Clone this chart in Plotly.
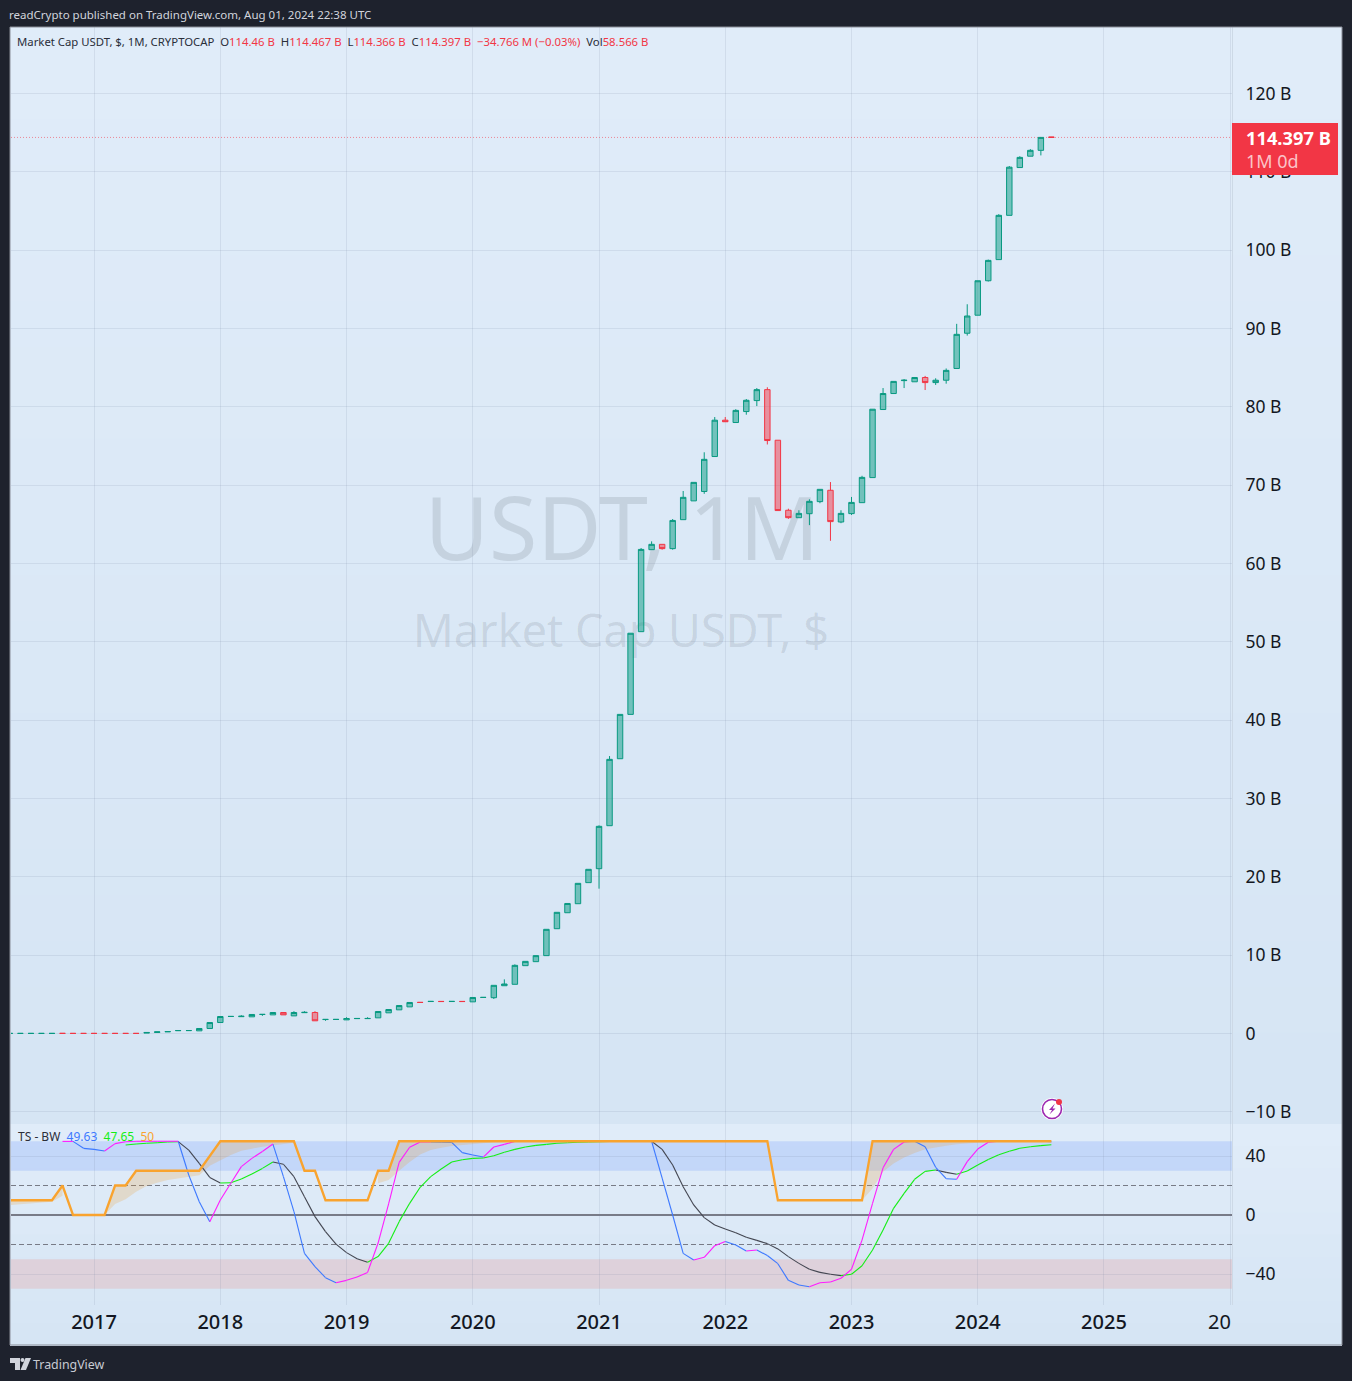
import plotly.graph_objects as go

W, H = 1352, 1381
FONT = "Noto Sans"

# ── Candles, one per month from 2016-05, values in billions ──────────────────
opens = [0.01, 0.01, 0.01, 0.01, 0.01, 0.02, 0.01, 0.01, 0.01, 0.01, 0.01, 0.01, 0.01,
         0.05, 0.13, 0.21, 0.36, 0.37, 0.34, 0.64, 1.4, 2.17, 2.15, 2.13, 2.43, 2.38, 2.68,
         2.25, 2.66, 2.68, 1.78, 1.79, 1.74, 1.9, 1.9, 2.0, 2.64, 3.02, 3.4, 3.98, 4.08,
         4.1, 4.08, 4.1, 4.04, 4.6, 4.57, 6.1, 6.28, 8.66, 9.17, 9.94, 13.38, 15.42, 16.57,
         19.26, 21.04, 26.53, 35.08, 40.74, 51.3, 61.77, 62.45, 61.9, 65.6, 68.0, 69.2,
         73.66, 78.3, 78.0, 79.4, 80.8, 82.2, 75.74, 66.8, 65.85, 66.36, 67.9, 69.35, 65.3,
         66.37, 67.77, 70.97, 79.66, 81.7, 83.35, 83.2, 83.75, 83.1, 83.4, 84.9, 89.4, 91.7,
         96.1, 98.8, 104.45, 110.55, 112.0, 112.75, 114.46]
highs = [0.01, 0.01, 0.01, 0.01, 0.01, 0.02, 0.01, 0.01, 0.01, 0.01, 0.01, 0.01, 0.01,
         0.13, 0.21, 0.25, 0.38, 0.38, 0.64, 1.4, 2.17, 2.18, 2.34, 2.43, 2.45, 2.68, 2.68,
         2.85, 2.85, 2.85, 1.8, 1.8, 2.08, 1.92, 2.08, 2.81, 3.06, 3.57, 3.96, 3.98, 4.1,
         4.1, 4.1, 4.1, 4.6, 4.61, 6.15, 6.91, 8.83, 9.21, 9.94, 13.3, 15.47, 16.6, 19.17,
         20.96, 26.57, 35.42, 40.74, 51.1, 61.98, 62.83, 62.45, 65.68, 69.26, 70.36, 74.2,
         78.7, 78.7, 79.7, 81.0, 82.4, 82.5, 75.74, 67.0, 66.8, 68.2, 69.47, 70.4, 66.8,
         68.5, 71.2, 79.7, 82.4, 83.25, 83.55, 83.75, 83.95, 83.65, 84.9, 90.6, 93.1, 96.1,
         98.8, 104.6, 110.75, 112.0, 112.9, 114.4, 114.467]
lows = [0.01, 0.01, 0.01, 0.01, 0.01, 0.01, 0.01, 0.01, 0.01, 0.01, 0.01, 0.01, 0.01,
        0.05, 0.13, 0.21, 0.36, 0.37, 0.34, 0.64, 1.4, 2.17, 2.15, 2.13, 2.25, 2.38, 2.38,
        2.25, 2.66, 1.62, 1.62, 1.79, 1.74, 1.9, 1.9, 2.0, 2.64, 3.02, 3.4, 3.96, 4.08,
        4.08, 4.08, 4.08, 4.04, 4.6, 4.4, 6.1, 6.28, 8.66, 9.17, 9.94, 13.38, 15.42, 16.57,
        19.26, 18.49, 26.53, 35.08, 40.74, 51.3, 61.77, 61.77, 61.77, 65.6, 68.0, 68.9,
        73.66, 78.1, 78.0, 79.0, 80.1, 75.2, 66.76, 65.7, 65.85, 64.9, 67.7, 62.9, 65.15,
        66.2, 67.77, 70.97, 79.66, 81.7, 82.4, 83.2, 82.15, 82.8, 82.96, 84.9, 89.1, 91.7,
        96.0, 98.8, 104.45, 110.55, 112.0, 112.1, 114.366]
closes = [0.01, 0.01, 0.01, 0.01, 0.01, 0.01, 0.01, 0.01, 0.01, 0.01, 0.01, 0.01, 0.01,
          0.13, 0.21, 0.25, 0.38, 0.38, 0.64, 1.4, 2.17, 2.18, 2.2, 2.43, 2.44, 2.68, 2.38,
          2.68, 2.7, 1.62, 1.8, 1.8, 1.91, 1.92, 1.92, 2.81, 3.06, 3.57, 3.96, 3.96, 4.1,
          4.08, 4.1, 4.08, 4.6, 4.61, 6.15, 6.32, 8.7, 9.21, 9.94, 13.3, 15.47, 16.6, 19.17,
          20.96, 26.45, 35.0, 40.74, 51.1, 61.8, 62.45, 61.9, 65.5, 68.45, 70.36, 73.3, 78.3,
          78.1, 79.55, 80.84, 82.2, 75.7, 66.76, 65.85, 66.4, 67.94, 69.47, 65.35, 66.4, 67.8,
          71.0, 79.7, 81.7, 83.25, 83.4, 83.75, 83.1, 83.4, 84.66, 89.26, 91.6, 96.1, 98.7,
          104.45, 110.6, 111.85, 112.75, 114.4, 114.397]
last_close = 114.397

# ── TS - BW indicator, same months ───────────────────────────────────────────
fast = [None] * 5 + [
    49.9, 49.9, 45.2, 44.5, 43.4, 48.4, 49.7, 50, 50, 50, 50, 50,
    27.1, 9, -4.5, 10.2, 21.5, 32.8, 38.4, 43, 48.1, 26, 2.3, -26, -35, -42.5, -45.9,
    -44.3, -42, -38.9, -19, 7.5, 35.7, 45.9, 49.5, 49.5, 49.4, 49.2, 42.3, 40.7, 39.3,
    46.1, 47.9, 49.9, 50, 50, 50, 50, 50, 50, 50, 50, 50, 50, 50, 50, 50,
    25, 0, -26, -30.5, -28.7, -20.8, -17.9, -20.3, -24.4, -23.7, -27.5, -33, -44.3,
    -47.5, -48.6, -45.9, -45.4, -42.9, -36.8, -17, 7.9, 32, 44.5, 49.5, 50, 46.3, 32.3,
    24.6, 24.2, 36.2, 44.7, 49.3, 50, 50, 50, 50, 50, 49.63]
slow = [None] * 11 + [
    47.5, 48.1, 48.6, 49, 49.5, 49.7, 44, 35, 25.5, 21.7, 21.9, 24.4, 27.8, 31.6, 35.9,
    34.4, 26, 12.4, -1.1, -11.3, -19.7, -25.5, -29.6, -32, -28.2, -19.2, -4.5, 7.9, 18.8,
    26, 31.2, 35.9, 37.5, 38.4, 38.6, 40.2, 42.5, 44.5, 46.1, 47.2, 47.9, 48.6, 49, 49.3,
    49.5, 49.7, 49.9, 50, 50, 50, 50, 44.5, 33.9, 19.2, 6.8, -1.8, -6.8, -9.5, -12, -15.1,
    -17.2, -19.4, -23, -28.2, -32.8, -36.8, -38.9, -40.2, -41.1, -40.2, -34.4, -23.7,
    -10.2, 4.5, 14.7, 24.2, 29.6, 30.5, 28.9, 27.6, 29.8, 33.9, 37.7, 40.9, 43.2, 45.2,
    46.3, 47, 47.65]
level = [10, 10, 10, 10, 10, 20, 0, 0, 0, 0, 20, 20, 30, 30, 30, 30, 30, 30, 30, 40, 50,
         50, 50, 50, 50, 50, 50, 50, 30, 30, 10, 10, 10, 10, 10, 30, 30, 50, 50, 50, 50, 50,
         50, 50, 50, 50, 50, 50, 50, 50, 50, 50, 50, 50, 50, 50, 50, 50, 50, 50, 50, 50, 50,
         50, 50, 50, 50, 50, 50, 50, 50, 50, 50, 10, 10, 10, 10, 10, 10, 10, 10, 10, 50, 50,
         50, 50, 50, 50, 50, 50, 50, 50, 50, 50, 50, 50, 50, 50, 50, 50]
# lower edge of the shaded ribbon, None where nothing is shaded
ribbon = [6.8, 7.5, 7.9, 8.4, 9, 13, None, None, None, 0, 7.5, 10.6, 15.8, 19.7, 21.9,
          23.7, 24.9, 25.8, 26.9, 33.4, 37.3, 40.7, 43.6, 45, 46.3, 47.5, 48.1, 49, None,
          None, None, None, None, None, None, 21.5, 23.7, 30, 36, 41, 44, 45.6, 46.8, 47.5,
          48.1, 48.8, 49.3, 49.7, 49.9, 50, None, None, None, None, None, None, None, None,
          None, None, None, None, None, None, None, None, None, None, None, None, None,
          None, None, None, None, None, None, None, None, None, None, 10, 18, 29.4, 35,
          38.9, 42, 44.5, 45.9, 47, 47.9, 48.6, 49, 49.5, 49.7, 49.9, 50, None, None, None]

# ── Axis ticks ───────────────────────────────────────────────────────────────
year_ticks = [8, 20, 32, 44, 56, 68, 80, 92, 104, 116]
year_labels = ["2017", "2018", "2019", "2020", "2021", "2022", "2023", "2024", "2025", ""]
price_ticks = [120, 110, 100, 90, 80, 70, 60, 50, 40, 30, 20, 10, 0, -10]
price_labels = ["120 B", "110 B", "100 B", "90 B", "80 B", "70 B", "60 B", "50 B", "40 B",
                "30 B", "20 B", "10 B", "0", "\u221210 B"]
ind_ticks = [40, 0, -40]
ind_labels = ["40", "0", "\u221240"]

months = list(range(len(closes)))
GRID = "rgba(110,130,155,0.14)"


def fx(px):
    return px / W


def fy(py):
    return 1 - py / H


def mix(a, b, t):
    return "rgb(%d,%d,%d)" % tuple(round(a[k] + (b[k] - a[k]) * t) for k in range(3))


def rect(x0, y0, x1, y1, color, layer="below", line=None):
    return dict(type="rect", xref="paper", yref="paper", x0=fx(x0), x1=fx(x1), y0=fy(y0), y1=fy(y1),
                fillcolor=color, layer=layer, line=line or dict(width=0))


def text(px, py, s, size=12, color="#131722", anchor="left", **kw):
    return dict(xref="paper", yref="paper", x=fx(px), y=fy(py), text=s, showarrow=False, xanchor=anchor,
                yanchor="middle", font=dict(family=FONT, size=size, color=color), **kw)


fig = go.Figure()

# ── Price pane ───────────────────────────────────────────────────────────────
fig.add_trace(go.Candlestick(
    x=months, open=opens, high=highs, low=lows, close=closes,
    increasing=dict(line=dict(color="#089981", width=1), fillcolor="rgba(8,153,129,0.5)"),
    decreasing=dict(line=dict(color="#f23645", width=1), fillcolor="rgba(242,54,69,0.5)"),
    whiskerwidth=0, showlegend=False, xaxis="x", yaxis="y",
))

# ── Indicator pane: shaded ribbon first, then the lines ──────────────────────
run = []
for i in months + [None]:
    if i is not None and ribbon[i] is not None:
        run.append(i)
    elif run:
        fig.add_trace(go.Scatter(
            x=run + run[::-1],
            y=[level[k] for k in run] + [ribbon[k] for k in run[::-1]],
            mode="lines", fill="toself", fillcolor="rgba(240,150,30,0.2)", line=dict(width=0),
            hoverinfo="skip", showlegend=False, xaxis="x2", yaxis="y2",
        ))
        run = []


def split_by_direction(values):
    up_x, up_y, down_x, down_y = [], [], [], []
    for i in range(1, len(values)):
        if values[i - 1] is None:
            continue
        if values[i] >= values[i - 1]:
            up_x += [i - 1, i, None]
            up_y += [values[i - 1], values[i], None]
        else:
            down_x += [i - 1, i, None]
            down_y += [values[i - 1], values[i], None]
    return up_x, up_y, down_x, down_y


for series, up_color, down_color in [(slow, "#14ee14", "#434651"), (fast, "#ff1cff", "#3d79ff")]:
    ux, uy, dx, dy = split_by_direction(series)
    for xs, ys, col in [(dx, dy, down_color), (ux, uy, up_color)]:
        fig.add_trace(go.Scatter(x=xs, y=ys, mode="lines", line=dict(color=col, width=1.1),
                                 hoverinfo="skip", showlegend=False, xaxis="x2", yaxis="y2"))

fig.add_trace(go.Scatter(x=months, y=level, mode="lines", line=dict(color="#f9a32e", width=2.3),
                         showlegend=False, xaxis="x2", yaxis="y2"))

# ── Backgrounds, bands and reference lines ───────────────────────────────────
shapes = [rect(0, 0, W, H, "#1e222d")]
TOP_A, TOP_B = (224, 236, 249), (214, 229, 244)
steps = 24
for s in range(steps):
    y0 = 27 + (1124 - 27) * s / steps
    y1 = 27 + (1124 - 27) * (s + 1) / steps + 1
    shapes.append(rect(10, y0, 1342, y1, mix(TOP_A, TOP_B, s / (steps - 1))))
for s in range(10):
    y0 = 1124 + (1345 - 1124) * s / 10
    y1 = 1124 + (1345 - 1124) * (s + 1) / 10 + 1
    shapes.append(rect(10, y0, 1342, y1, mix(TOP_A, TOP_B, s / 9)))

wm = "rgba(19,23,34,0.11)"
shapes.append(dict(type="rect", xref="paper", yref="paper", x0=fx(297), x1=fx(947), y0=fy(592), y1=fy(472),
                   layer="below", line=dict(width=0), fillcolor="rgba(0,0,0,0)",
                   label=dict(text="USDT, 1M", textposition="middle center",
                              font=dict(family=FONT, size=88, color=wm))))
shapes.append(dict(type="rect", xref="paper", yref="paper", x0=fx(296), x1=fx(946), y0=fy(667), y1=fy(597),
                   layer="below", line=dict(width=0), fillcolor="rgba(0,0,0,0)",
                   label=dict(text="Market Cap USDT, $", textposition="middle center",
                              font=dict(family=FONT, size=45, color=wm))))

for y0, y1, col in [(30, 50, "rgba(41,98,255,0.15)"), (-50, -30, "rgba(255,60,40,0.13)")]:
    shapes.append(dict(type="rect", xref="x2 domain", yref="y2", x0=0, x1=1, y0=y0, y1=y1,
                       fillcolor=col, line=dict(width=0), layer="below"))
for val, dash, width in [(20, "5px,3px", 1), (-20, "5px,3px", 1), (0, "solid", 2)]:
    shapes.append(dict(type="line", xref="x2 domain", yref="y2", x0=0, x1=1, y0=val, y1=val,
                       line=dict(color="#787b86", width=width, dash=dash), layer="below"))
shapes.append(dict(type="line", xref="x domain", yref="y", x0=0, x1=1, y0=last_close, y1=last_close,
                   line=dict(color="rgba(242,54,69,0.55)", width=1, dash="1px,2px"), layer="below"))

# price badge, covers the 110 B label like the original
shapes.append(rect(1232, 123, 1338, 175, "#f23645", layer="above"))
# frame
shapes.append(dict(type="rect", xref="paper", yref="paper", x0=fx(10), x1=fx(1342), y0=fy(27), y1=fy(1345),
                   line=dict(color="#8a8e99", width=1), fillcolor="rgba(0,0,0,0)", layer="above"))
# lightning badge
shapes.append(dict(type="circle", xref="paper", yref="paper", x0=fx(1041), x1=fx(1063), y0=fy(1098), y1=fy(1120),
                   fillcolor="#ffffff", line=dict(width=0), layer="above"))
shapes.append(dict(type="circle", xref="paper", yref="paper", x0=fx(1042.5), x1=fx(1061.5), y0=fy(1099.5), y1=fy(1118.5),
                   fillcolor="#ffffff", line=dict(color="#9c27b0", width=1.6), layer="above"))
bolt = [(1055, 1103.5), (1049, 1110), (1052, 1110), (1049.5, 1114.5), (1055.5, 1108.5), (1052.5, 1108.5)]
shapes.append(dict(type="path", xref="paper", yref="paper", fillcolor="#9c27b0", line=dict(width=0), layer="above",
                   path="M" + " L".join(f"{fx(a):.5f},{fy(b):.5f}" for a, b in bolt) + " Z"))
shapes.append(dict(type="circle", xref="paper", yref="paper", x0=fx(1056), x1=fx(1062), y0=fy(1099), y1=fy(1105),
                   fillcolor="#f23645", line=dict(width=0), layer="above"))
# TradingView mark
for pts in [[(10, 1358), (20, 1358), (20, 1370), (15, 1370), (15, 1363), (10, 1363)],
            [(25.5, 1358), (31, 1358), (26, 1370), (20.5, 1370)]]:
    shapes.append(dict(type="path", xref="paper", yref="paper", fillcolor="#d1d4dc", line=dict(width=0), layer="above",
                       path="M" + " L".join(f"{fx(a):.5f},{fy(b):.5f}" for a, b in pts) + " Z"))
shapes.append(dict(type="circle", xref="paper", yref="paper", x0=fx(20.5), x1=fx(24.5), y0=fy(1358), y1=fy(1362),
                   fillcolor="#d1d4dc", line=dict(width=0), layer="above"))

# ── Text ─────────────────────────────────────────────────────────────────────
RED = "#f23645"
def red(s):
    return f'<span style="color:{RED}">{s}</span>'


legend_row = ("Market Cap USDT, $, 1M, CRYPTOCAP&nbsp;&nbsp;O" + red("114.46 B") + "&nbsp;&nbsp;H" + red("114.467 B")
              + "&nbsp;&nbsp;L" + red("114.366 B") + "&nbsp;&nbsp;C" + red("114.397 B") + "&nbsp;&nbsp;"
              + red("\u221234.766 M (\u22120.03%)") + "&nbsp;&nbsp;Vol" + red("58.566 B"))
ind_row = ('TS - BW&nbsp;&nbsp;<span style="color:#3d79ff">49.63</span>&nbsp;&nbsp;'
           '<span style="color:#14ee14">47.65</span>&nbsp;&nbsp;<span style="color:#f9a32e">50</span>')

annotations = [
    text(7, 15, "readCrypto published on TradingView.com, Aug 01, 2024 22:38 UTC", size=11.5, color="#d1d4dc"),
    text(15, 41, legend_row, size=11.35, color="#2a2e39"),
    text(16, 1136.5, ind_row, size=12, color="#2a2e39"),
    text(1244, 137.5, "<b>114.397 B</b>", size=18.3, color="#ffffff"),
    text(1244, 161, "1M 0d", size=18, color="#fbc3c8"),
    text(31, 1364, "TradingView", size=12.4, color="#c8cbd3"),
    text(1206, 1321.5, "20", size=20),
]

fig.update_layout(
    width=W, height=H,
    margin=dict(l=0, r=0, t=0, b=0),
    paper_bgcolor="#1e222d",
    plot_bgcolor="rgba(0,0,0,0)",
    font=dict(family=FONT, color="#131722"),
    showlegend=False,
    hovermode=False,
    boxgap=0.26,
    shapes=shapes,
    annotations=annotations,
    xaxis=dict(domain=[fx(11), fx(1232)], range=[(11 - 9.9) / 10.52, (1232 - 9.9) / 10.52], anchor="y",
               tickmode="array", tickvals=year_ticks, showticklabels=False, ticks="",
               showgrid=True, gridcolor=GRID, gridwidth=1, zeroline=False,
               rangeslider=dict(visible=False)),
    yaxis=dict(domain=[fy(1124), fy(27)], range=[(1033.5 - 1124) / 7.833, (1033.5 - 27) / 7.833], anchor="x",
               side="right", tickmode="array", tickvals=price_ticks, ticktext=price_labels,
               ticks="outside", ticklen=9, tickcolor="rgba(0,0,0,0)",
               tickfont=dict(family=FONT, size=17.5, color="#131722"),
               showgrid=True, gridcolor=GRID, gridwidth=1, zeroline=False,
               showline=True, linecolor="#cdd9e6", linewidth=1),
    xaxis2=dict(domain=[fx(11), fx(1232)], range=[(11 - 9.9) / 10.52, (1232 - 9.9) / 10.52], anchor="y2",
                tickmode="array", tickvals=year_ticks, ticktext=year_labels,
                ticks="", ticklabelstandoff=3,
                tickfont=dict(family=FONT, size=20, color="#131722", weight=500),
                showgrid=True, gridcolor=GRID, gridwidth=1, zeroline=False),
    yaxis2=dict(domain=[fy(1305), fy(1124)], range=[(1215 - 1305) / 1.475, (1215 - 1124) / 1.475], anchor="x2",
                side="right", tickmode="array", tickvals=ind_ticks, ticktext=ind_labels,
                ticks="outside", ticklen=9, tickcolor="rgba(0,0,0,0)",
                tickfont=dict(family=FONT, size=17.5, color="#131722"),
                showgrid=True, gridcolor=GRID, gridwidth=1, zeroline=False,
                showline=True, linecolor="#cdd9e6", linewidth=1),
)

# the browser's default body margin would shift the whole picture by 8px
fig.write_html("out.html", config={"displayModeBar": False},
               post_script="document.body.style.margin='0';")
